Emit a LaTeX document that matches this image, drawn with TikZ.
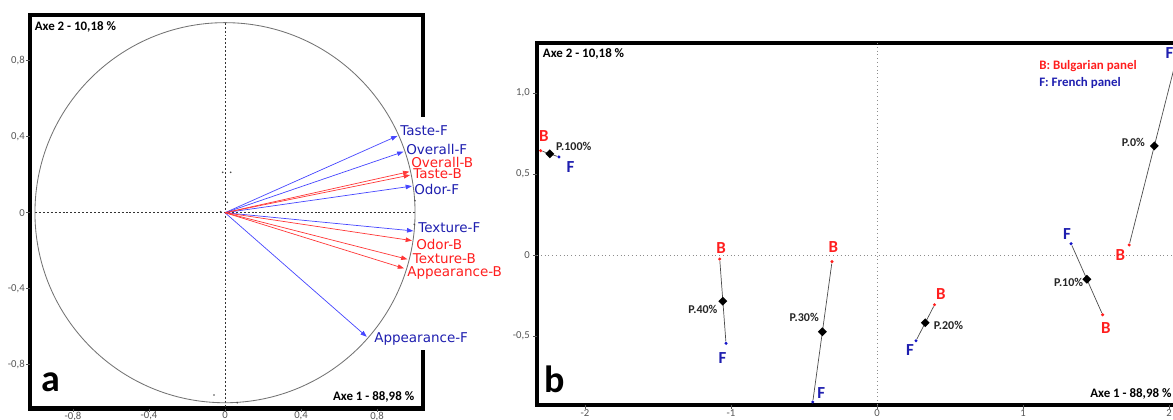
\documentclass[tikz,border=0pt]{standalone}
\usepackage{fontspec}
\setmainfont{Carlito}
\newfontfamily\vecfont{DejaVu Sans}
\usetikzlibrary{positioning,calc,arrows.meta,shapes.geometric}

\definecolor{panelF}{RGB}{30,30,175}
\definecolor{panelB}{RGB}{255,30,30}
\definecolor{vecF}{RGB}{70,70,255}
\definecolor{vecB}{RGB}{255,55,55}
\definecolor{tickgray}{RGB}{85,85,85}

\tikzset{
	frameline/.style={line width=2.85pt, black},
	axisdash/.style={dash pattern=on 1.4pt off 1.4pt, line width=0.5pt, black!80},
	axisdot/.style={dotted, line width=0.7pt, black!45},
	circleline/.style={line width=0.6pt, black!55},
	tickmark/.style={line width=0.5pt, tickgray},
	vecarrowF/.style={vecF, line width=0.5pt, -{Triangle[length=4.5pt,width=3.2pt]}},
	vecarrowB/.style={vecB, line width=0.5pt, -{Triangle[length=4.5pt,width=3.2pt]}},
	veclabel/.style={font=\vecfont\fontsize{9.6}{11}\selectfont, inner sep=0pt, anchor=west},
	ticklabel/.style={font=\fontsize{7.6}{9}\selectfont, text=tickgray, inner sep=0pt},
	axetitle/.style={font=\bfseries\fontsize{9.2}{11}\selectfont, inner sep=0pt},
	panelletter/.style={font=\bfseries\fontsize{27}{30}\selectfont, inner sep=0pt, anchor=base west},
	suppdot/.style={circle, fill=black!70, inner sep=0pt, minimum size=1.3pt},
	pairline/.style={draw=black!70, line width=0.5pt},
	meanpt/.style={diamond, fill=black, inner sep=0pt, minimum width=6.5pt, minimum height=6.5pt},
	ptB/.style={circle, fill=panelB, inner sep=0pt, minimum size=2.4pt},
	ptF/.style={circle, fill=panelF!70!blue, inner sep=0pt, minimum size=2.4pt},
	letB/.style={font=\bfseries\fontsize{12}{14}\selectfont, text=panelB, inner sep=0pt},
	letF/.style={font=\bfseries\fontsize{12}{14}\selectfont, text=panelF, inner sep=0pt},
	pctlabel/.style={font=\bfseries\fontsize{8.5}{10}\selectfont, text=black!85, inner sep=0pt},
	legendtext/.style={font=\bfseries\fontsize{9.2}{11}\selectfont, inner sep=0pt, anchor=west}
}

\begin{document}
\begin{tikzpicture}[x=0.025cm, y=-0.025cm]
	\useasboundingbox (0,0) rectangle (1173,420);

	% ---------------- panel a : correlation circle ----------------
	% frame (open on the right, where the labels sit)
	\draw[frameline] (423,117) -- (423,15) -- (30,15) -- (30,408.5) -- (423,408.5) -- (423,350);

	% axes
	\draw[axisdash] (35,212.7) -- (415,212.7);
	\draw[axisdash] (225,22.7) -- (225,408.5);

	% ticks and tick labels
	\foreach \v/\t [count=\i] in {0.8/{0,8}, 0.4/{0,4}, 0/0, -0.4/{-0,4}, -0.8/{-0,8}} {
		\draw[tickmark] (26,{212.7-190*\v}) -- (30,{212.7-190*\v});
		\node[ticklabel, anchor=east] (aly\i) at (25,{212.7-190*\v}) {\t};
	}
	\foreach \v/\t [count=\i] in {-0.8/{-0,8}, -0.4/{-0,4}, 0/0, 0.4/{0,4}, 0.8/{0,8}} {
		\draw[tickmark] ({225+190*\v},408.5) -- ({225+190*\v},412);
		\node[ticklabel, anchor=north] (alx\i) at ({225+190*\v},411.5) {\t};
	}

	\begin{scope}[shift={(225,212.7)}, x=4.75cm, y=4.75cm]
		% circle of radius 1
		\draw[circleline] (0,0) circle (1);

		% vector ends
		\coordinate (o) at (0,0);
		\coordinate (tasteF) at (0.907,0.404);
		\coordinate (overallF) at (0.939,0.321);
		\coordinate (overallB) at (0.970,0.216);
		\coordinate (tasteB) at (0.974,0.198);
		\coordinate (odorF) at (0.984,0.140);
		\coordinate (textureF) at (0.991,-0.096);
		\coordinate (odorB) at (0.984,-0.147);
		\coordinate (textureB) at (0.960,-0.245);
		\coordinate (appearB) at (0.942,-0.293);
		\coordinate (appearF) at (0.746,-0.653);

		% French panel vectors
		\draw[vecarrowF] (o) -- (tasteF);
		\draw[vecarrowF] (o) -- (overallF);
		\draw[vecarrowF] (o) -- (odorF);
		\draw[vecarrowF] (o) -- (textureF);
		\draw[vecarrowF] (o) -- (appearF);

		% Bulgarian panel vectors
		\draw[vecarrowB] (o) -- (overallB);
		\draw[vecarrowB] (o) -- (tasteB);
		\draw[vecarrowB] (o) -- (odorB);
		\draw[vecarrowB] (o) -- (textureB);
		\draw[vecarrowB] (o) -- (appearB);
	\end{scope}

	% small supplementary points
	\node[suppdot] (s1) at (222.7,172.3) {};
	\node[suppdot] (s2) at (230.7,172.3) {};
	\node[suppdot] (s3) at (227.3,202.3) {};
	\node[suppdot] (s4) at (220.7,211.7) {};
	\node[suppdot] (s5) at (214,395) {};
	\node[suppdot] (s6) at (237.3,402.7) {};
	\node[suppdot] (s7) at (415,200.7) {};
	\node[suppdot] (s8) at (414.3,224.3) {};

	% vector labels
	\node[veclabel, text=panelF] (ltasteF) at (400,131) {Taste-F};
	\node[veclabel, text=panelF] (loverallF) at (406,149) {Overall-F};
	\node[veclabel, text=panelB] (loverallB) at (411,162.5) {Overall-B};
	\node[veclabel, text=panelB] (ltasteB) at (413,174) {Taste-B};
	\node[veclabel, text=panelF] (lodorF) at (414,189) {Odor-F};
	\node[veclabel, text=panelF] (ltextureF) at (418,227.5) {Texture-F};
	\node[veclabel, text=panelB] (lodorB) at (416,244) {Odor-B};
	\node[veclabel, text=panelB] (ltextureB) at (412.5,258.5) {Texture-B};
	\node[veclabel, text=panelB] (lappearB) at (407,273) {Appearance-B};
	\node[veclabel, text=panelF] (lappearF) at (374,339) {Appearance-F};

	% titles
	\node[axetitle, anchor=west] (aaxe2) at (34.5,27.3) {Axe 2 - 10,18 \%};
	\node[axetitle, anchor=east] (aaxe1) at (414.5,397.3) {Axe 1 - 88,98 \%};
	\node[panelletter] (aletter) at (41,391) {a};

	% ---------------- panel b : panel means ----------------
	% frame (runs on past the right edge)
	\draw[frameline] (1185,43) -- (537,43) -- (537,405) -- (1185,405);

	% axes
	\draw[axisdot] (537,255) -- (1185,255);
	\draw[axisdot] (877,43) -- (877,405);

	% ticks and tick labels
	\foreach \v/\t [count=\i] in {1/{1,0}, 0.5/{0,5}, 0/0, -0.5/{-0,5}} {
		\draw[tickmark] (533,{255-162*\v}) -- (537,{255-162*\v});
		\node[ticklabel, anchor=east] (bly\i) at (530,{255-162*\v}) {\t};
	}
	\foreach \v [count=\i] in {-2,-1,0,1,2} {
		\draw[tickmark] ({877+146*\v},405) -- ({877+146*\v},408.5);
		\node[ticklabel, anchor=north] (blx\i) at ({877+146*\v},409) {\v};
	}

	\begin{scope}[shift={(877,255)}, x=3.65cm, y=4.05cm]
		% B and F points of each product
		\node[ptB] (b100) at (-2.303,0.644) {};
		\node[ptF] (f100) at (-2.178,0.605) {};
		\node[ptB] (b40) at (-1.077,-0.025) {};
		\node[ptF] (f40) at (-1.034,-0.545) {};
		\node[ptB] (b30) at (-0.308,-0.041) {};
		\node[ptF] (f30) at (-0.440,-0.907) {};
		\node[ptB] (b20) at (0.394,-0.307) {};
		\node[ptF] (f20) at (0.267,-0.529) {};
		\node[ptF] (f10) at (1.329,0.070) {};
		\node[ptB] (b10) at (1.545,-0.369) {};
		\node[ptB] (b0) at (1.727,0.062) {};
		\node[ptF] (f0) at (2.071,1.284) {};

		% lines between the two panels
		\draw[pairline] (b100) -- (f100);
		\draw[pairline] (b40) -- (f40);
		\draw[pairline] (b30) -- (f30);
		\draw[pairline] (b20) -- (f20);
		\draw[pairline] (b10) -- (f10);
		\draw[pairline] (b0) -- (f0);

		% means
		\node[meanpt] (m100) at ($(b100)!0.5!(f100)$) {};
		\node[meanpt] (m40) at ($(b40)!0.5!(f40)$) {};
		\node[meanpt] (m30) at ($(b30)!0.5!(f30)$) {};
		\node[meanpt] (m20) at ($(b20)!0.5!(f20)$) {};
		\node[meanpt] (m10) at ($(b10)!0.5!(f10)$) {};
		\node[meanpt] (m0) at ($(b0)!0.5!(f0)$) {};

		% letters
		\node[letB] (lb100) at (-2.281,0.735) {B};
		\node[letF] (lf100) at (-2.098,0.545) {F};
		\node[letB] (lb40) at (-1.068,0.045) {B};
		\node[letF] (lf40) at (-1.058,-0.636) {F};
		\node[letB] (lb30) at (-0.299,0.048) {B};
		\node[letF] (lf30) at (-0.381,-0.854) {F};
		\node[letB] (lb20) at (0.438,-0.241) {B};
		\node[letF] (lf20) at (0.226,-0.588) {F};
		\node[letF] (lf10) at (1.301,0.131) {F};
		\node[letB] (lb10) at (1.567,-0.449) {B};
		\node[letB] (lb0) at (1.666,-0.002) {B};
		\node[letF] (lf0) at (2.002,1.245) {F};

		% product names
		\node[pctlabel, anchor=west] (p100) at (-2.199,0.673) {P.100\%};
		\node[pctlabel, anchor=east] (p40) at (-1.091,-0.333) {P.40\%};
		\node[pctlabel, anchor=east] (p30) at (-0.397,-0.385) {P.30\%};
		\node[pctlabel, anchor=west] (p20) at (0.388,-0.432) {P.20\%};
		\node[pctlabel, anchor=east] (p10) at (1.413,-0.171) {P.10\%};
		\node[pctlabel, anchor=east] (p0) at (1.836,0.693) {P.0\%};
	\end{scope}

	% legend
	\node[legendtext, text=panelB] (legB) at (1039,66) {B: Bulgarian panel};
	\node[legendtext, text=panelF] (legF) at (1039,83.3) {F: French panel};

	% titles
	\node[axetitle, anchor=west] (baxe2) at (542.7,54) {Axe 2 - 10,18 \%};
	\node[axetitle, anchor=west] (baxe1) at (1090,394.3) {Axe 1 - 88,98 \%};
	\node[panelletter] (bletter) at (544,392) {b};
\end{tikzpicture}
\end{document}
